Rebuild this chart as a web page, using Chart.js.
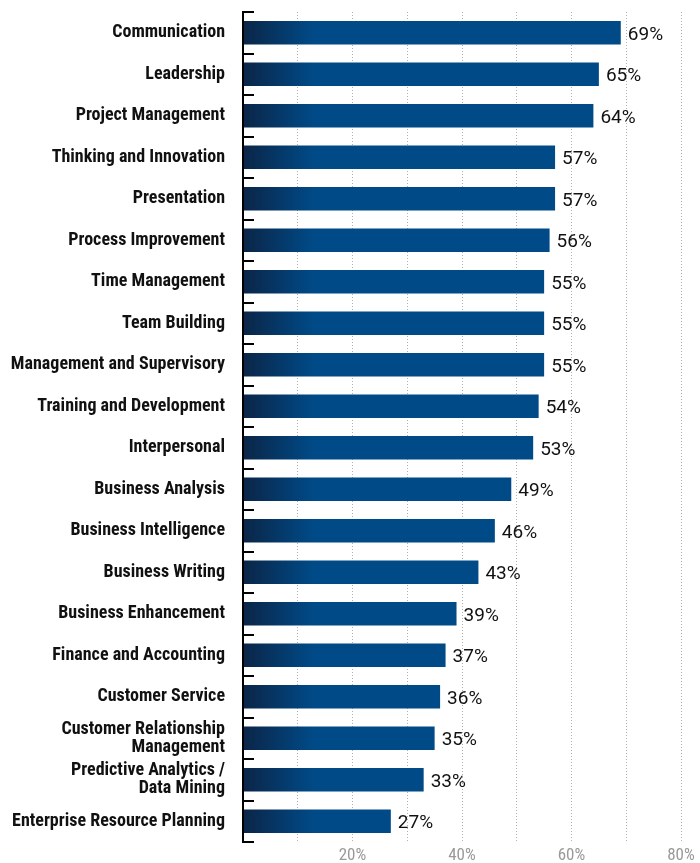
<!DOCTYPE html>
<html>
<head>
<meta charset="utf-8">
<script src="https://cdn.jsdelivr.net/npm/chart.js@4"></script>
<style>
  body { margin: 0; background: #fff; }
  #wrap { width: 700px; height: 863px; position: relative; }
</style>
</head>
<body>
<div id="wrap"><canvas id="barChart"></canvas></div>
<script>
// Skills and share of respondents (%)
const skills = [
    'Communication', 'Leadership', 'Project Management', 'Thinking and Innovation',
    'Presentation', 'Process Improvement', 'Time Management', 'Team Building',
    'Management and Supervisory', 'Training and Development', 'Interpersonal',
    'Business Analysis', 'Business Intelligence', 'Business Writing',
    'Business Enhancement', 'Finance and Accounting', 'Customer Service',
    ['Customer Relationship', 'Management'], ['Predictive Analytics /', 'Data Mining'],
    'Enterprise Resource Planning'
];
const shares = [69, 65, 64, 57, 57, 56, 55, 55, 55, 54, 53, 49, 46, 43, 39, 37, 36, 35, 33, 27];
const xTickLabels = [20, 40, 60, 80];

const labelFont = '"Roboto Condensed", "DejaVu Sans Condensed", sans-serif';

// dark-to-blue fill along each bar's left end
function barFill(context) {
    const area = context.chart.chartArea;
    if (!area) return '#004a87';
    const g = context.chart.ctx.createLinearGradient(area.left, 0, area.left + 70, 0);
    g.addColorStop(0, '#0b2547');
    g.addColorStop(1, '#004a87');
    return g;
}

// left axis line with short ticks pointing into the plot
const axisTicks = {
    id: 'axisTicks',
    afterDraw(chart) {
        const { ctx, chartArea } = chart;
        const step = (chartArea.bottom - chartArea.top) / skills.length;
        ctx.save();
        ctx.strokeStyle = '#000';
        ctx.lineWidth = 2;
        ctx.beginPath();
        ctx.moveTo(chartArea.left, chartArea.top - 1);
        ctx.lineTo(chartArea.left, chartArea.bottom + 1);
        for (let i = 0; i <= skills.length; i++) {
            const ty = Math.round(chartArea.top + i * step);
            ctx.moveTo(chartArea.left, ty);
            ctx.lineTo(chartArea.left + 11, ty);
        }
        ctx.stroke();
        ctx.restore();
    }
};

// value labels to the right of the bars
const valueLabels = {
    id: 'valueLabels',
    afterDatasetsDraw(chart) {
        const { ctx } = chart;
        const meta = chart.getDatasetMeta(0);
        ctx.save();
        ctx.fillStyle = '#111';
        ctx.font = '19px Roboto, sans-serif';
        ctx.textAlign = 'left';
        ctx.textBaseline = 'middle';
        meta.data.forEach((bar, i) => {
            ctx.fillText(shares[i] + '%', bar.x + 7, bar.y + 2);
        });
        ctx.restore();
    }
};

const barCtx = document.getElementById('barChart').getContext('2d');
new Chart(barCtx, {
    type: 'bar',
    data: {
        labels: skills,
        datasets: [{
            data: shares,
            backgroundColor: barFill,
            borderWidth: 0,
            barPercentage: 0.6,
            categoryPercentage: 0.95,
        }],
    },
    options: {
        indexAxis: 'y',
        responsive: true,
        maintainAspectRatio: false,
        animation: false,
        layout: { padding: { top: 12, right: 19, left: 0, bottom: 0 } },
        plugins: {
            legend: { display: false },
            tooltip: { enabled: false },
        },
        scales: {
            x: {
                min: 0,
                max: 80,
                grid: {
                    color: '#b0b0b0',
                    lineWidth: 1,
                    drawTicks: false,
                },
                border: { display: false, dash: [1, 2] },
                ticks: {
                    stepSize: 10,
                    padding: 4,
                    color: '#999',
                    font: { family: labelFont, size: 17 },
                    callback: v => xTickLabels.includes(v) ? v + '%' : '',
                },
                afterFit(scale) {
                    scale.height = 21;
                    scale.paddingLeft = 0;
                    scale.paddingRight = 0;
                },
            },
            y: {
                border: { display: false },
                grid: { display: false, drawTicks: false },
                ticks: {
                    padding: 18,
                    color: '#111',
                    font: { family: labelFont, size: 18, weight: 'bold', lineHeight: 1.02 },
                },
                afterFit(scale) {
                    scale.width = 243;
                    scale.paddingTop = 0;
                    scale.paddingBottom = 0;
                },
            },
        },
    },
    plugins: [valueLabels, axisTicks],
});
</script>
</body>
</html>
